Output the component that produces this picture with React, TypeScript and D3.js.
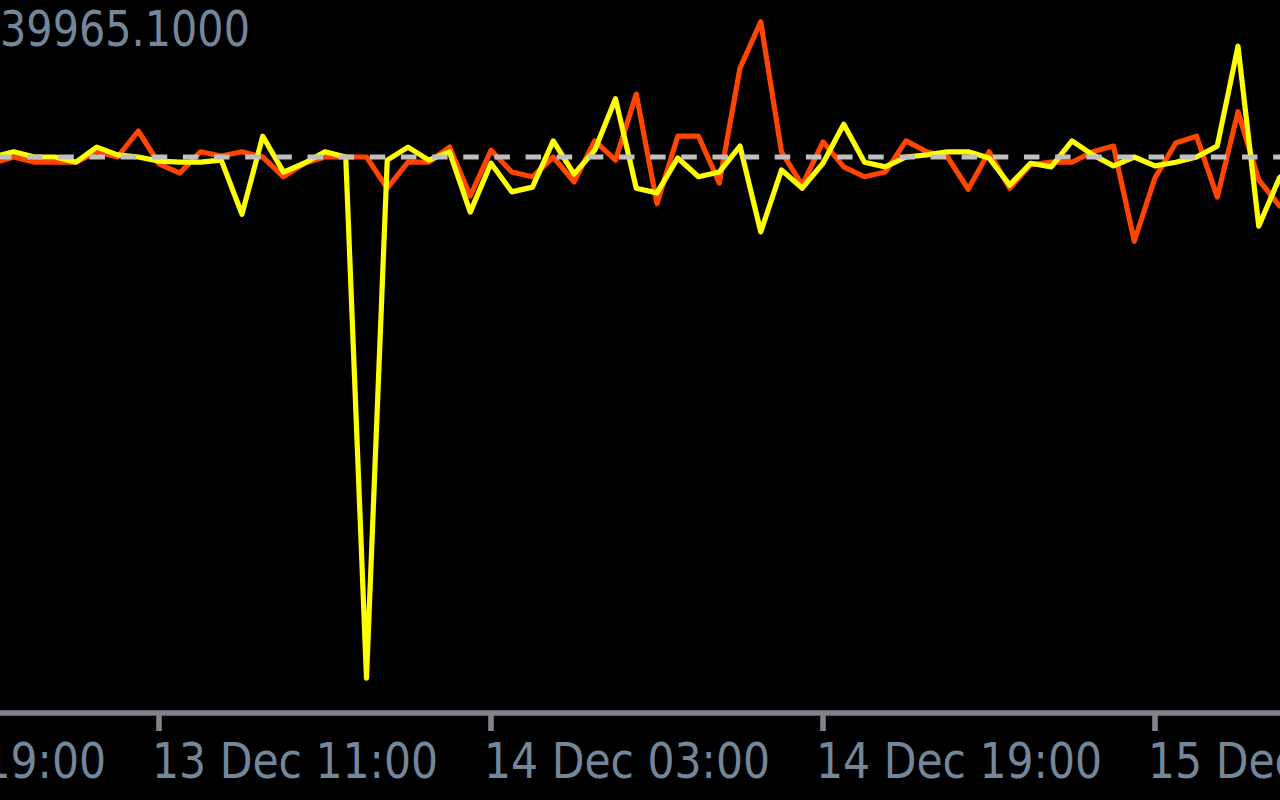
import React from "react";
import * as d3 from "d3";

// ---- data (hourly, 13 Dec 03:00 -> 15 Dec 18:00) ----
const startTime = new Date(Date.UTC(2023, 11, 13, 3));
const endTime = new Date(Date.UTC(2023, 11, 15, 19));
const hours: Date[] = d3.utcHour.range(startTime, endTime);

const yellowSeries: number[] = [
  0, 1.0, 0, 0, -1.0, 1.9, 0.4, 0, -0.8, -1.0,
  -1.0, -0.6, -11.0, 4.0, -2.9, -1.2, 1.0, 0, -100.2, -0.6,
  1.9, -0.6, 1.0, -10.6, -1.2, -6.7, -5.8, 3.1, -3.3, 1.3,
  11.2, -6.0, -6.9, -0.2, -3.8, -2.9, 2.1, -14.4, -2.5, -6.0,
  -1.2, 6.3, -1.0, -1.9, 0, 0.4, 1.0, 1.0, -0.2, -5.4,
  -1.2, -1.9, 3.1, 0.4, -1.7, 0, -1.7, -1.0, 0, 2.1,
  21.3, -13.3, -4.0, -0.6,
];

const orangeSeries: number[] = [
  -1.2, 0, -1.0, -1.0, -1.0, 1.0, 0, 5.0, -1.3, -3.1,
  1.0, 0.2, 1.0, 0, -3.8, -1.2, 0, 0, 0, -6.0,
  -1.0, -1.0, 1.9, -7.5, 1.3, -2.9, -3.8, 0, -4.8, 3.1,
  -0.6, 12.1, -9.0, 4.0, 4.0, -5.0, 17.1, 26.0, 1.0, -5.4,
  2.9, -1.9, -3.8, -2.9, 3.1, 1.0, 0, -6.2, 1.0, -6.0,
  -1.5, -1.0, -1.0, 1.0, 2.1, -16.2, -4.0, 2.7, 4.0, -7.7,
  8.7, -4.4, -9.4, -10.2,
];

const levelValue = 0;
const topLabel = "39965.1000";
const tickTimes: Date[] = [
  new Date(Date.UTC(2023, 11, 12, 19)),
  new Date(Date.UTC(2023, 11, 13, 11)),
  new Date(Date.UTC(2023, 11, 14, 3)),
  new Date(Date.UTC(2023, 11, 14, 19)),
  new Date(Date.UTC(2023, 11, 15, 11)),
];

const W = 1280;
const H = 800;
const PX = 5.2; // thickness of one "pixel" of the original chart

export default function App() {
  const x = d3
    .scaleUtc()
    .domain([new Date(Date.UTC(2023, 11, 13, 11)), new Date(Date.UTC(2023, 11, 14, 3))])
    .range([159, 491]);
  const y = d3.scaleLinear().domain([-100, 0]).range([677, 157]);

  const line = d3
    .line<number>()
    .x((_, i) => x(hours[i]))
    .y((d) => y(d))
    .curve(d3.curveLinear);

  const fmt = d3.utcFormat("%d %b %H:%M");
  const axisY = 713;
  const textColor = "#74879a";
  const font = "'DejaVu Sans', 'Liberation Sans', sans-serif";

  return (
    <svg
      width={W}
      height={H}
      style={{ position: "absolute", left: 0, top: 0, display: "block" }}
    >
      <rect x={0} y={0} width={W} height={H} fill="#000000" />
      <g>
        <path
          d={line(orangeSeries) || ""}
          fill="none"
          stroke="#ff4500"
          strokeWidth={PX}
          strokeLinejoin="round"
        />
        <path
          d={line(yellowSeries) || ""}
          fill="none"
          stroke="#ffff00"
          strokeWidth={PX}
          strokeLinejoin="round"
        />
        <line
          x1={-4}
          x2={W}
          y1={y(levelValue)}
          y2={y(levelValue)}
          stroke="#c0c0c0"
          strokeWidth={PX}
          strokeDasharray="15.5 15.65"
        />
      </g>
      <text
        x={0}
        y={46}
        fontFamily={font}
        fontSize={49}
        fill={textColor}
        textLength={250}
        lengthAdjust="spacingAndGlyphs"
      >
        {topLabel}
      </text>
      <line x1={0} x2={W} y1={axisY} y2={axisY} stroke="#80838c" strokeWidth={5.6} />
      {tickTimes.map((t, i) => {
        const tx = x(t);
        return (
          <g key={i}>
            <line x1={tx} x2={tx} y1={axisY} y2={731} stroke="#80838c" strokeWidth={5.6} />
            <text
              x={tx - 7}
              y={778}
              fontFamily={font}
              fontSize={49}
              fill={textColor}
              textLength={286}
              lengthAdjust="spacingAndGlyphs"
            >
              {fmt(t)}
            </text>
          </g>
        );
      })}
    </svg>
  );
}
